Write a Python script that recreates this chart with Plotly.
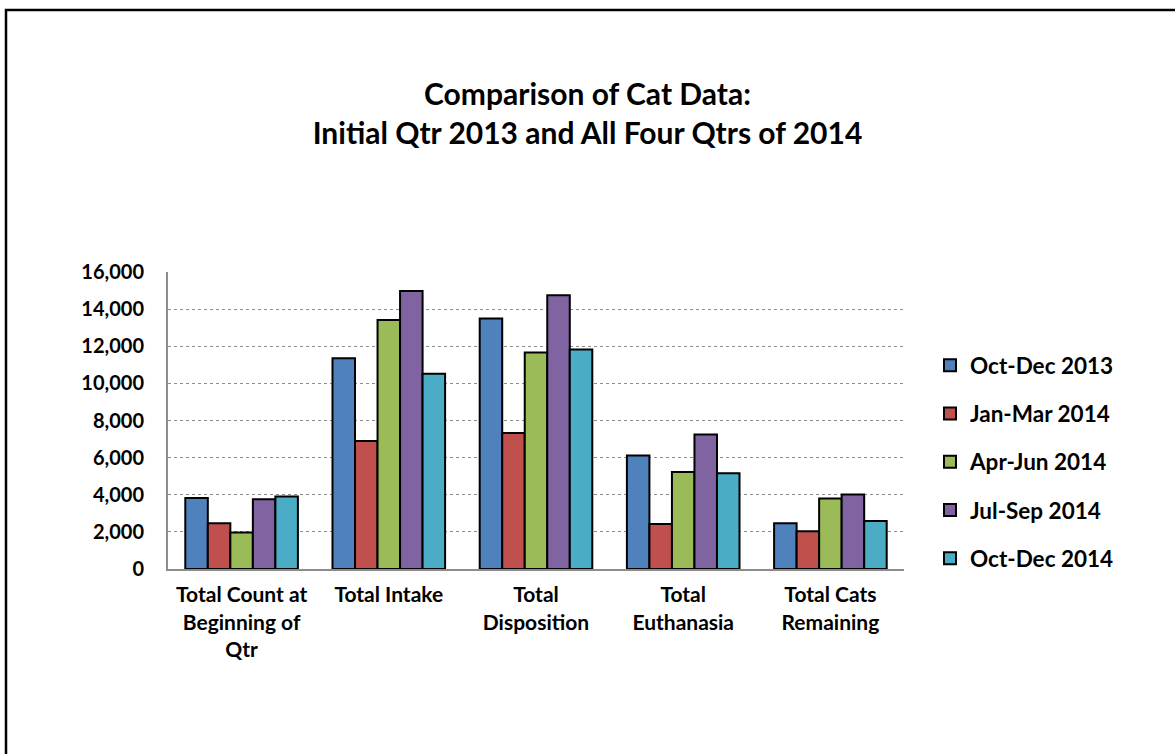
import plotly.graph_objects as go

categories = ["Total Count at<br>Beginning of<br>Qtr", "Total Intake", "Total<br>Disposition",
              "Total<br>Euthanasia", "Total Cats<br>Remaining"]
series_names = ["Oct-Dec 2013", "Jan-Mar 2014", "Apr-Jun 2014", "Jul-Sep 2014", "Oct-Dec 2014"]
oct_dec_2013 = [3820, 11360, 13490, 6110, 2470]
jan_mar_2014 = [2470, 6900, 7330, 2420, 2040]
apr_jun_2014 = [1970, 13420, 11670, 5220, 3800]
jul_sep_2014 = [3760, 14980, 14750, 7240, 4010]
oct_dec_2014 = [3910, 10520, 11830, 5160, 2580]
colors = ["#4F81BD", "#C0504D", "#9BBB59", "#8064A2", "#4BACC6"]
tick_vals = [0, 2000, 4000, 6000, 8000, 10000, 12000, 14000, 16000]
tick_text = ["0", "2,000", "4,000", "6,000", "8,000", "10,000", "12,000", "14,000", "16,000"]

FONT = "Lato"
all_series = [oct_dec_2013, jan_mar_2014, apr_jun_2014, jul_sep_2014, oct_dec_2014]

fig = go.Figure()
for i, (name, vals) in enumerate(zip(series_names, all_series)):
    fig.add_trace(go.Bar(
        x=categories, y=vals, name="<b>" + name + "</b>", legendgroup=name,
        marker=dict(color=colors[i], line=dict(color="black", width=2)),
    ))

L, R, T, B = 168, 271, 272, 185
W, H = 1175, 754
pw, ph = W - L - R, H - T - B

fig.update_layout(
    width=W, height=H,
    margin=dict(l=L, r=R, t=T, b=B),
    paper_bgcolor="white", plot_bgcolor="white",
    barmode="group", bargap=0.235, bargroupgap=0,
    font=dict(family=FONT, color="black"),
    title=dict(
        text="<b>Comparison of Cat Data:<br>Initial Qtr 2013 and All Four Qtrs of 2014</b>",
        x=0.5, xref="container", xanchor="center",
        y=1 - 105 / H, yref="container", yanchor="top",
        font=dict(family=FONT, size=30, color="black"),
    ),
    legend=dict(
        x=(930 - L) / pw, xanchor="left",
        y=(569 - 462) / ph, yanchor="middle",
        font=dict(family=FONT, size=22.5, color="black"),
        tracegroupgap=16,
        itemwidth=30,
        bgcolor="rgba(0,0,0,0)",
    ),
    xaxis=dict(
        showline=True, linecolor="#8c8c8c", linewidth=2,
        tickvals=categories, ticktext=["<b>" + c + "</b>" for c in categories],
        tickfont=dict(family=FONT, size=21, color="black"),
        ticks="", ticklabelstandoff=6,
    ),
    yaxis=dict(
        range=[0, 16000], tickvals=tick_vals, ticktext=["<b>" + t + "</b>" for t in tick_text],
        showline=True, linecolor="#8c8c8c", linewidth=2,
        showgrid=True, gridcolor="#8c8c8c", gridwidth=1, griddash="dot",
        tickfont=dict(family=FONT, size=20, color="black"),
        ticks="", ticklabelstandoff=18, zeroline=False,
    ),
    shapes=[dict(
        type="rect", xref="paper", yref="paper",
        x0=(6 - L) / pw, x1=(W + 20 - L) / pw,
        y0=(569 - (H + 20)) / ph, y1=(569 - 10) / ph,
        line=dict(color="black", width=2.5), fillcolor="rgba(0,0,0,0)", layer="above",
    )],
)

fig.write_html("out.html", config={"displayModeBar": False},
               post_script="document.body.style.margin='0';document.body.style.padding='0';")
